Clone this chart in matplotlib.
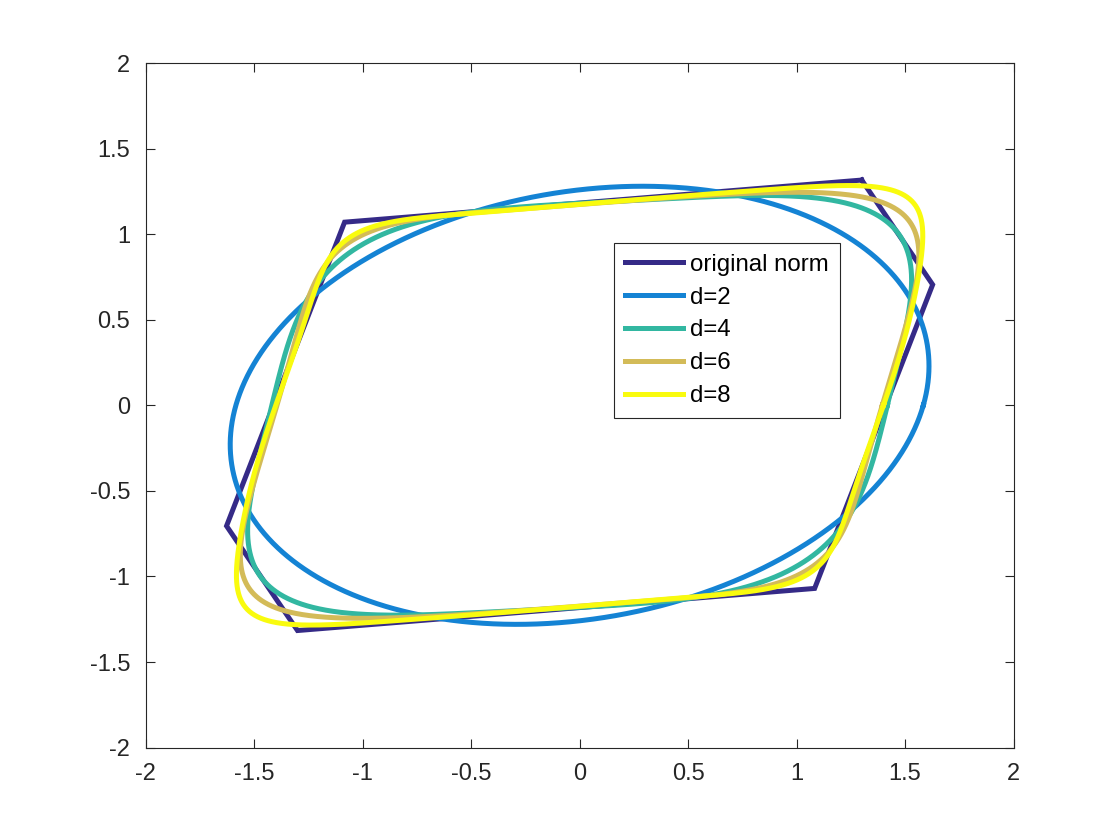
import numpy as np
import matplotlib
matplotlib.use("Agg")
import matplotlib.pyplot as plt

# ---- data ----
# vertices of the original (hexagonal) norm ball
hex_x = [1.300, 1.627, 1.083, -1.300, -1.627, -1.083, 1.300]
hex_y = [1.316, 0.705, -1.070, -1.316, -0.705, 1.070, 1.316]

# coefficients of homogeneous polynomial norms p(x,y) = sum_k c_k x^k y^(d-k); curve p = 1
coef_d2 = [0.63080, -0.18010, 0.39860]
coef_d4 = [0.51485, -0.13932, 0.06302, -0.18955, 0.24709]
coef_d6 = [0.38302, -0.22352, 0.05087, 0.04930, 0.08168, -0.18975, 0.13592]
coef_d8 = [0.27678, -0.23645, 0.10140, 0.03577, -0.09906, -0.03159, 0.16995, -0.14832, 0.06761]

labels = ["original norm", "d=2", "d=4", "d=6", "d=8"]
colors = ["#352A87", "#1483D4", "#32B7A1", "#D3BB58", "#F9FB0E"]
ticks = [-2, -1.5, -1, -0.5, 0, 0.5, 1, 1.5, 2]
tick_labels = ["-2", "-1.5", "-1", "-0.5", "0", "0.5", "1", "1.5", "2"]

plt.rcParams['font.family'] = ['Liberation Sans', 'DejaVu Sans']

fig = plt.figure(figsize=(11.2, 8.4), dpi=100)
ax = fig.add_axes([0.13, 0.11, 0.775, 0.815])

lw = 3.6
ax.plot(hex_x, hex_y, color=colors[0], lw=lw, label=labels[0], solid_joinstyle='miter')

th = np.linspace(0, 2 * np.pi, 3000)
cs, sn = np.cos(th), np.sin(th)
for coef, col, lab in zip([coef_d2, coef_d4, coef_d6, coef_d8], colors[1:], labels[1:]):
    d = len(coef) - 1
    F = sum(c * cs**k * sn**(d - k) for k, c in enumerate(coef))
    r = F ** (-1.0 / d)
    ax.plot(r * cs, r * sn, color=col, lw=lw, label=lab)

ax.set_xlim(-2, 2)
ax.set_ylim(-2, 2)
ax.set_xticks(ticks)
ax.set_xticklabels(tick_labels)
ax.set_yticks(ticks)
ax.set_yticklabels(tick_labels)
ax.tick_params(direction='in', length=6.3, width=0.8, top=True, right=True,
               labelsize=17, colors='#262626', pad=11)
for s in ax.spines.values():
    s.set_color('#262626')
    s.set_linewidth(0.8)

leg = ax.legend(loc='upper left', bbox_to_anchor=(0.540, 0.737), fontsize=17.3,
                frameon=True, fancybox=False, edgecolor='#262626', framealpha=1,
                handlelength=2.4, handletextpad=0.3, labelspacing=0.45,
                borderpad=0.45, borderaxespad=0.0)
leg.get_frame().set_linewidth(0.8)

fig.savefig("out.png", dpi=100)
